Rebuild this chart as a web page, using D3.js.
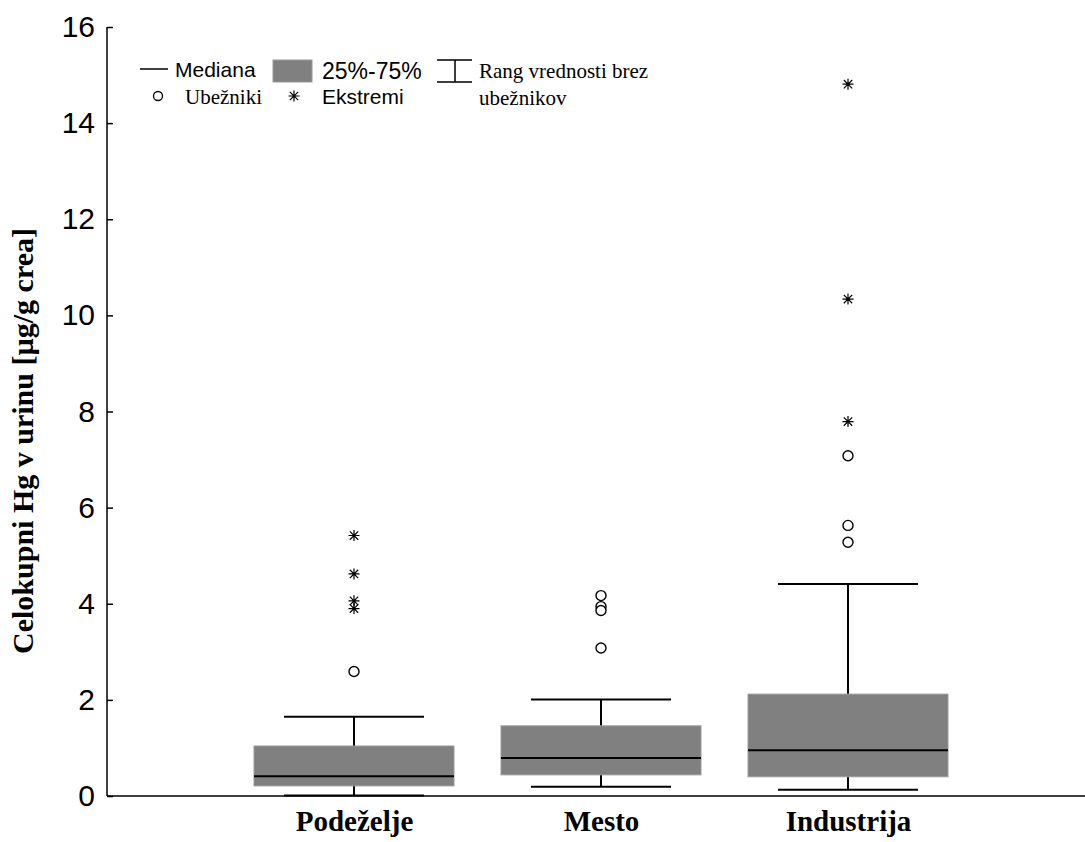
<!DOCTYPE html>
<html><head><meta charset="utf-8">
<script src="https://cdn.jsdelivr.net/npm/d3@7"></script>
<style>html,body{margin:0;padding:0;background:#fff;}svg{display:block;}</style>
</head><body>
<svg id="chart" width="1085" height="842"></svg>
<script>
const categories = ["Podeželje", "Mesto", "Industrija"];
const whiskerMin = [0.01, 0.19, 0.13];
const q1 = [0.21, 0.44, 0.40];
const median = [0.41, 0.79, 0.95];
const q3 = [1.04, 1.46, 2.12];
const whiskerMax = [1.65, 2.01, 4.41];
const outliers = [[2.59], [4.17, 3.94, 3.86, 3.08], [7.08, 5.63, 5.28]];
const extremes = [[5.42, 4.62, 4.06, 3.90], [], [14.81, 10.34, 7.79]];
const yTicks = [0, 2, 4, 6, 8, 10, 12, 14, 16];
const yTitle = "Celokupni Hg v urinu [µg/g crea]";

(function () {
const svg = d3.select("#chart");
const mLeft = 107, mRight = 1095, mTop = 27, mBottom = 796;
const y = d3.scaleLinear().domain([0, 16]).range([mBottom, mTop]);
const x = d3.scalePoint().domain(categories).range([mLeft, mRight]).padding(1);
const boxHalf = 100, capHalf = 70;
const sans = "Liberation Sans, Arial, sans-serif", serif = "Liberation Serif, Times New Roman, serif";

// axes
const yAxis = d3.axisLeft(y).tickValues(yTicks).tickSize(-6).tickPadding(12).tickFormat(d3.format("d"));
const gy = svg.append("g").attr("transform", `translate(${mLeft},0)`).call(yAxis);
gy.select(".domain").attr("stroke", "#000").attr("stroke-width", 1.5).attr("d", `M0,${mTop}V${mBottom}`);
gy.selectAll(".tick line").attr("stroke", "#000").attr("stroke-width", 1.5);
gy.selectAll(".tick text").attr("font-family", sans).attr("font-size", 30).attr("fill", "#000");

svg.append("line").attr("x1", mLeft).attr("x2", mRight).attr("y1", mBottom).attr("y2", mBottom)
  .attr("stroke", "#000").attr("stroke-width", 1.5);

const xAxis = d3.axisBottom(x).tickSize(0).tickPadding(0);
const gx = svg.append("g").attr("transform", `translate(0,${mBottom})`).call(xAxis);
gx.select(".domain").remove();
gx.selectAll(".tick text").attr("y", 0).attr("dy", "35px").attr("font-family", serif)
  .attr("font-weight", "bold").attr("font-size", 29).attr("fill", "#000");

svg.append("text").attr("transform", `translate(33,441) rotate(-90)`).attr("text-anchor", "middle")
  .attr("font-family", serif).attr("font-weight", "bold")
  .attr("font-size", 30).attr("fill", "#000").text(yTitle);

function drawStar(sel, cx, cy) {
  const s = 5.5, t = 4.2;
  sel.append("path").attr("d", `M${cx},${cy - s}V${cy + s}M${cx - s},${cy}H${cx + s}M${cx - t},${cy - t}L${cx + t},${cy + t}M${cx - t},${cy + t}L${cx + t},${cy - t}`)
    .attr("stroke", "#000").attr("stroke-width", 1.2).attr("fill", "none");
}

// boxes
const data = categories.map((c, i) => ({c, lo: whiskerMin[i], q1: q1[i], med: median[i], q3: q3[i], hi: whiskerMax[i], out: outliers[i], ext: extremes[i]}));
const g = svg.append("g");
data.forEach(d => {
  const cx = x(d.c);
  g.append("line").attr("x1", cx).attr("x2", cx).attr("y1", y(d.hi)).attr("y2", y(d.lo)).attr("stroke", "#000").attr("stroke-width", 2);
  g.append("line").attr("x1", cx - capHalf).attr("x2", cx + capHalf).attr("y1", y(d.hi)).attr("y2", y(d.hi)).attr("stroke", "#000").attr("stroke-width", 2);
  g.append("line").attr("x1", cx - capHalf).attr("x2", cx + capHalf).attr("y1", y(d.lo)).attr("y2", y(d.lo)).attr("stroke", "#000").attr("stroke-width", 2);
  g.append("rect").attr("x", cx - boxHalf).attr("width", 2 * boxHalf).attr("y", y(d.q3)).attr("height", y(d.q1) - y(d.q3))
    .attr("fill", "#808080").attr("stroke", "#9a9a9a").attr("stroke-width", 1);
  g.append("line").attr("x1", cx - boxHalf).attr("x2", cx + boxHalf).attr("y1", y(d.med)).attr("y2", y(d.med)).attr("stroke", "#000").attr("stroke-width", 2);
  d.out.forEach(v => g.append("circle").attr("cx", cx).attr("cy", y(v)).attr("r", 5).attr("fill", "#fff").attr("stroke", "#000").attr("stroke-width", 1.4));
  d.ext.forEach(v => drawStar(g, cx, y(v)));
});

// legend
const lg = svg.append("g");
lg.append("line").attr("x1", 140).attr("x2", 168).attr("y1", 69).attr("y2", 69).attr("stroke", "#000").attr("stroke-width", 1.5);
lg.append("text").attr("x", 175).attr("y", 77).attr("font-family", sans).attr("font-size", 21).text("Mediana");
lg.append("rect").attr("x", 273).attr("y", 60).attr("width", 39).attr("height", 22).attr("fill", "#808080").attr("stroke", "#9a9a9a");
lg.append("text").attr("x", 322).attr("y", 79).attr("font-family", sans).attr("font-size", 23).text("25%-75%");
lg.append("path").attr("d", "M437,60H472M455,60V82M437,82H472").attr("stroke", "#000").attr("stroke-width", 1.5).attr("fill", "none");
lg.append("text").attr("x", 479).attr("y", 78).attr("font-family", serif).attr("font-size", 21).text("Rang vrednosti brez");
lg.append("text").attr("x", 479).attr("y", 105).attr("font-family", serif).attr("font-size", 21).text("ubežnikov");
lg.append("circle").attr("cx", 158).attr("cy", 96).attr("r", 4.5).attr("fill", "#fff").attr("stroke", "#000").attr("stroke-width", 1.3);
lg.append("text").attr("x", 185).attr("y", 104).attr("font-family", serif).attr("font-size", 21).text("Ubežniki");
drawStar(lg, 294, 96);
lg.append("text").attr("x", 322).attr("y", 104).attr("font-family", sans).attr("font-size", 21).text("Ekstremi");
})();
</script>
</body></html>
